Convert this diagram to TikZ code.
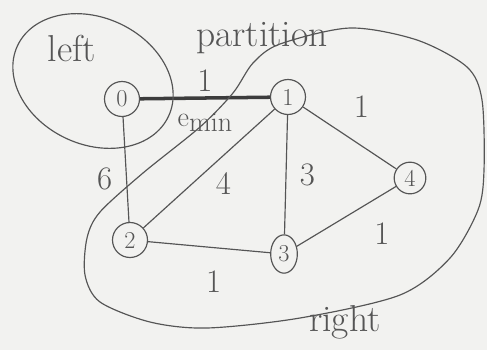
\documentclass[tikz,border=0pt]{standalone}
\usetikzlibrary{shapes.geometric, positioning}
\definecolor{pencil}{RGB}{85,85,85}
\definecolor{paper}{RGB}{242,242,240}
\tikzset{
  % graph vertices
  vertex/.style={circle, draw=pencil, line width=1pt, text=pencil,
    font=\huge, inner sep=0pt, minimum size=1.05cm},
  tallvertex/.style={ellipse, draw=pencil, line width=1pt, text=pencil,
    font=\huge, inner sep=0pt, minimum width=0.8cm, minimum height=1.15cm},
  edge/.style={draw=pencil, line width=1pt},
  minedge/.style={draw=pencil!70!black, line width=3pt},
  weight/.style={text=pencil, font=\fontsize{28}{30}\selectfont},
  word/.style={text=pencil, font=\fontsize{32}{34}\selectfont},
  region/.style={draw=pencil, line width=1pt}
}

\begin{document}
\begin{tikzpicture}[x=0.03cm, y=-0.03cm]
  % paper
  \fill[paper] (0,0) rectangle (487,350);
  \useasboundingbox (0,0) rectangle (487,350);

  % Vertices
  \node[vertex] (n0) at (122,99) {0};
  \node[vertex] (n1) at (288,97) {1};
  \node[vertex] (n2) at (130,240) {2};
  \node[tallvertex] (n3) at (284,254) {3};
  \node[vertex, minimum size=0.95cm] (n4) at (410,178) {4};

  % Edges
  \draw[minedge] (n0) -- (n1)
    node[midway, above=1pt, weight] (w01) {1}
    node[midway, below=8pt, weight, font=\fontsize{24}{26}\selectfont] (emin) {e\raisebox{-0.15em}{min}};
  \draw[edge] (n0) -- (n2) node[midway, left=8pt, yshift=-8pt, weight] (w02) {6};
  \draw[edge] (n1) -- (n2) node[midway, below right=0pt and 2pt, weight] (w12) {4};
  \draw[edge] (n1) -- (n3) node[midway, right=8pt, weight] (w13) {3};
  \draw[edge] (n1) -- (n4) node[midway, above=14pt, xshift=10pt, weight] (w14) {1};
  \draw[edge] (n3) -- (n4) node[midway, below right=2pt and 20pt, weight] (w34) {1};
  \draw[edge] (n2) -- (n3) node[midway, below=16pt, xshift=4pt, weight] (w23) {1};

  % Partition
  \draw[region] (93,81) ellipse [x radius=2.5cm, y radius=1.9cm, rotate=-25];
  \draw[region] plot[smooth cycle] coordinates {
    (143,173) (200,127) (233,93) (253,63) (280,44) (350,28) (417,40)
    (467,67) (482,100) (484,170) (478,210) (450,258) (400,295) (300,318)
    (207,328) (150,322) (100,302) (85,275) (87,238) (100,212)};

  % Labels
  \node[word] (lleft) at (72,48) {left};
  \node[word] (lpart) at (262,38) {partition};
  \node[word] (lright) at (345,322) {right};
\end{tikzpicture}
\end{document}
